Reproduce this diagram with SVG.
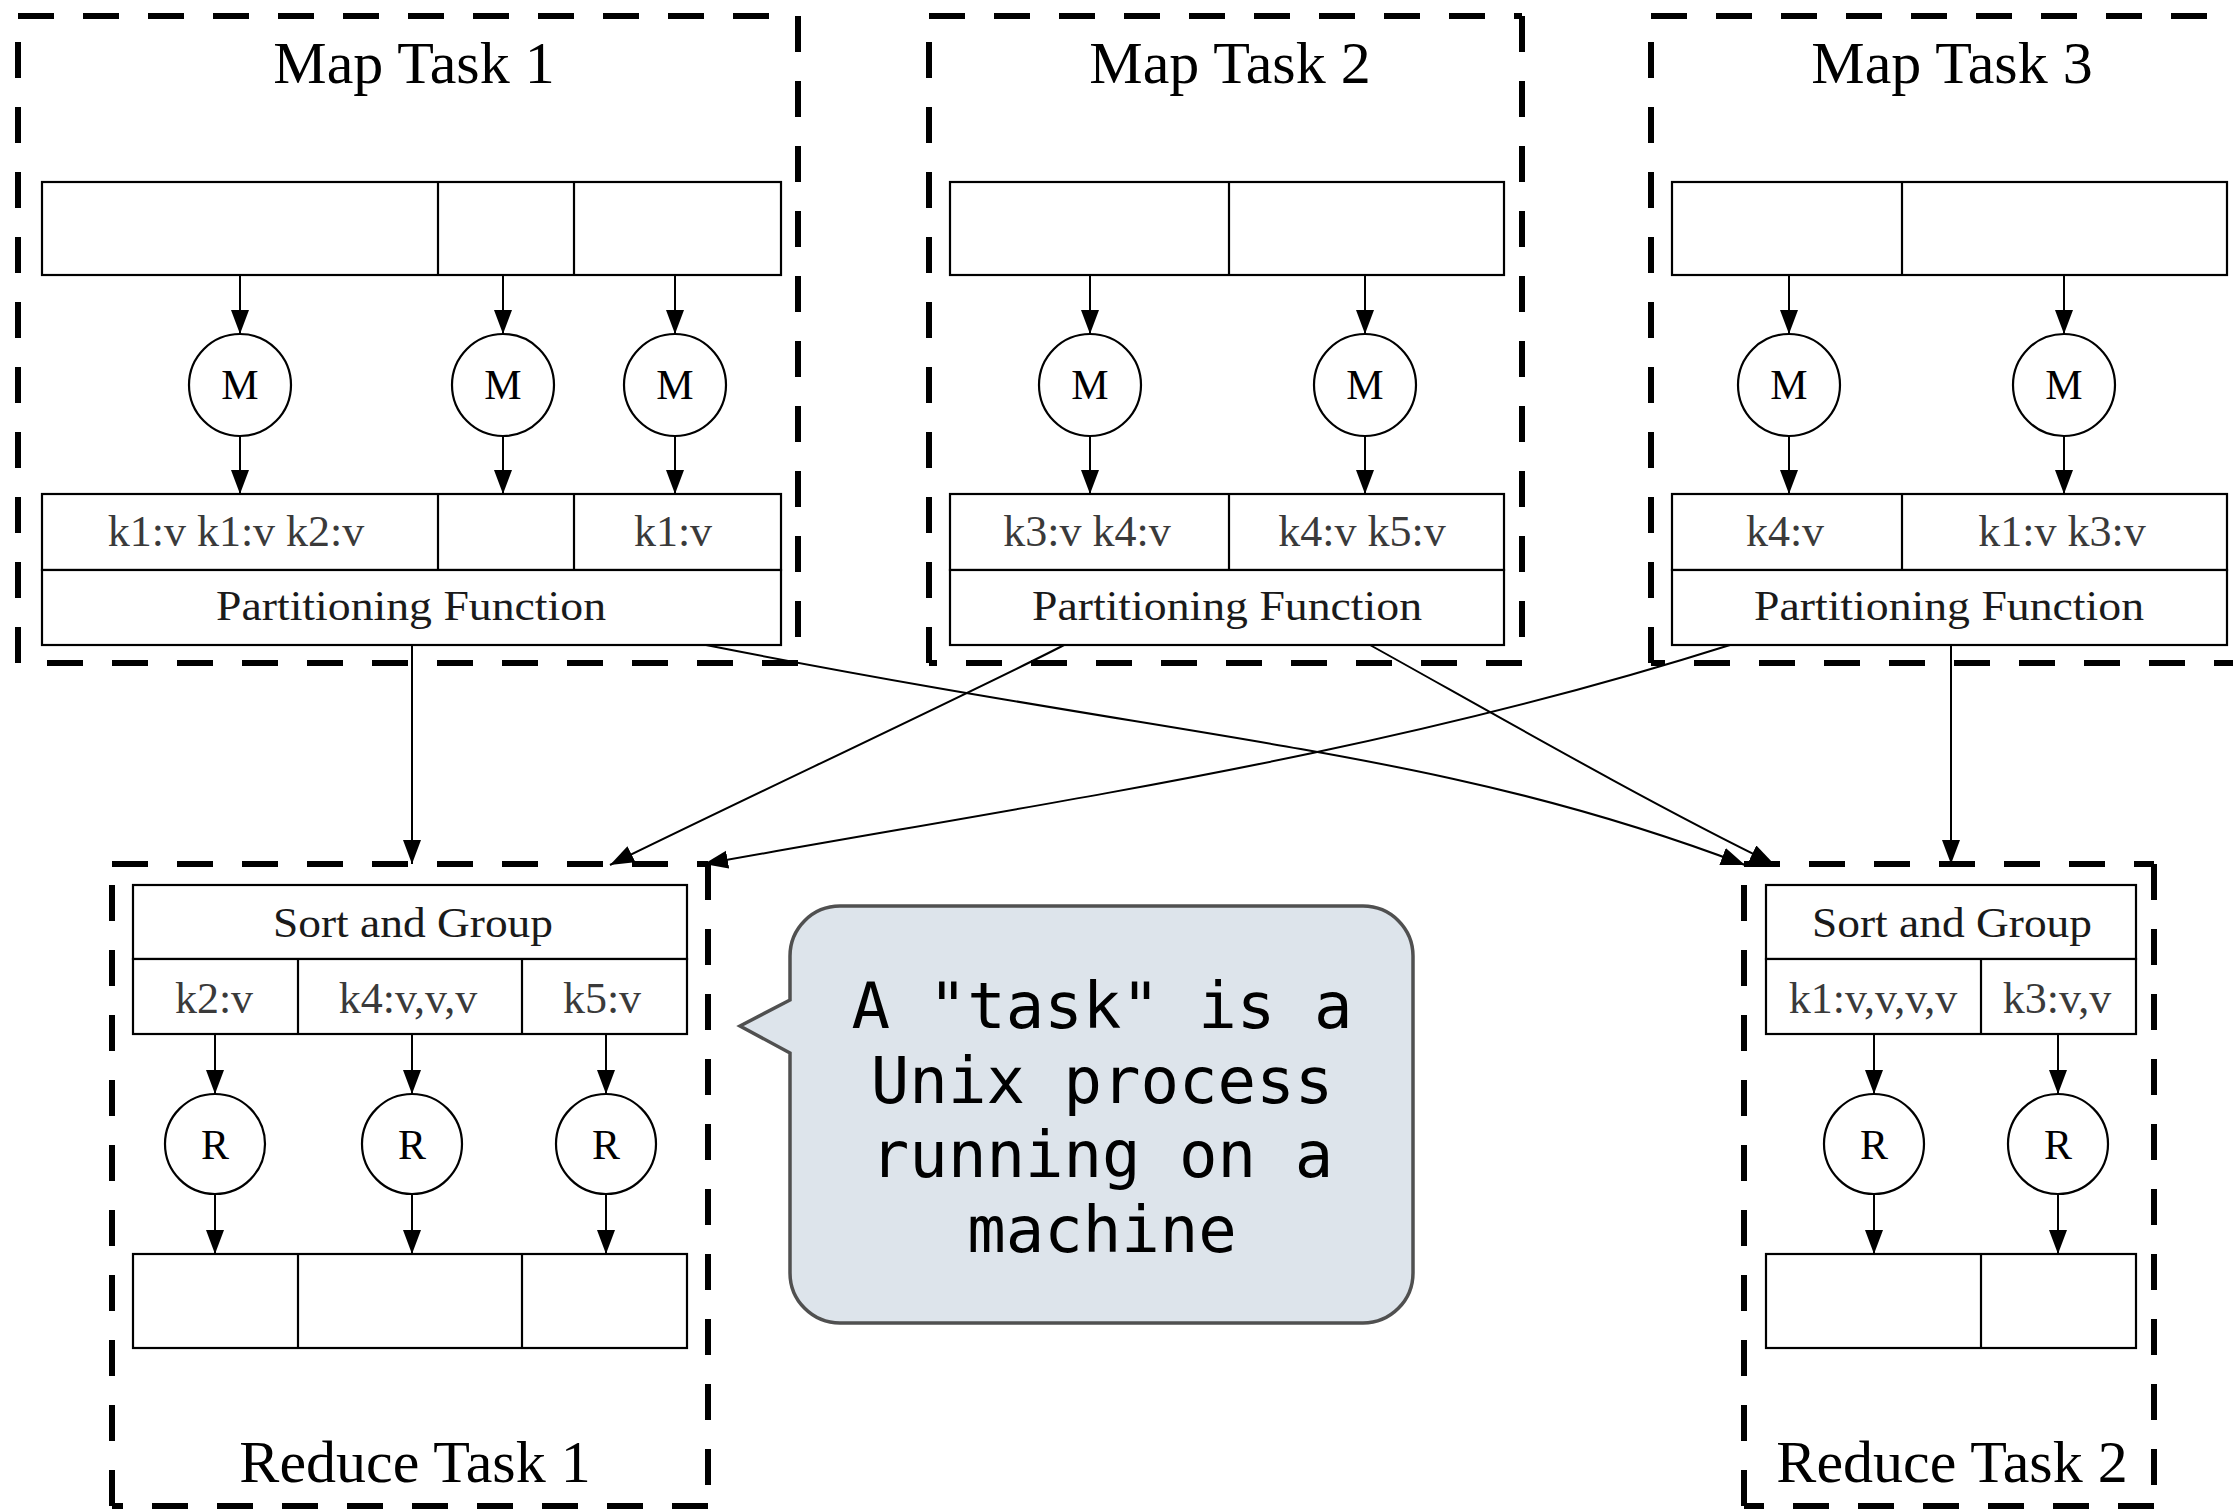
<svg xmlns="http://www.w3.org/2000/svg" width="2233" height="1509" viewBox="0 0 2233 1509">
  <style>
    .dash { fill: none; stroke: #000; stroke-width: 6; stroke-dasharray: 36 29; }
    .box { fill: #fff; stroke: #000; stroke-width: 2.2; }
    .div { stroke: #000; stroke-width: 2.2; }
    .node { fill: #fff; stroke: #000; stroke-width: 2.2; }
    .title { font-family: "Liberation Serif", "Times New Roman", serif; font-size: 60px; fill: #000; text-anchor: middle; }
    .kv { font-family: "Liberation Serif", "Times New Roman", serif; font-size: 44px; fill: #3a3a3a; text-anchor: middle; }
    .fn { font-family: "Liberation Serif", "Times New Roman", serif; font-size: 42px; fill: #1a1a1a; text-anchor: middle; }
    .lbl { font-family: "Liberation Serif", "Times New Roman", serif; font-size: 42px; fill: #000; text-anchor: middle; }
    .conn { fill: none; stroke: #000; stroke-width: 2; }
    .note { font-family: "DejaVu Sans Mono", "Liberation Mono", monospace; font-size: 64px; fill: #000; text-anchor: middle; }
  </style>
  <defs>
    <marker id="arrow" markerUnits="userSpaceOnUse" markerWidth="26" markerHeight="20" refX="24" refY="9" orient="auto">
      <path d="M0,0 L24,9 L0,18 Z" fill="#000"/>
    </marker>
  </defs>

  <rect width="2233" height="1509" fill="#fff"/>

  <!-- Map Task 1 -->
  <g id="map-task-1">
    <path class="dash" d="M18,16 H798 M798,16 V663 M798,663 H18 M18,663 V16"/>
    <text class="title" x="414" y="83">Map Task 1</text>
    <g id="m1-input">
      <rect class="box" x="42" y="182" width="739" height="93"/>
      <line class="div" x1="438" y1="182" x2="438" y2="275"/>
      <line class="div" x1="574" y1="182" x2="574" y2="275"/>
    </g>
    <g id="m1-map-a"><circle class="node" cx="240" cy="385" r="51"/><text class="lbl" x="240" y="399">M</text></g>
    <g id="m1-map-b"><circle class="node" cx="503" cy="385" r="51"/><text class="lbl" x="503" y="399">M</text></g>
    <g id="m1-map-c"><circle class="node" cx="675" cy="385" r="51"/><text class="lbl" x="675" y="399">M</text></g>
    <g id="m1-output">
      <rect class="box" x="42" y="494" width="739" height="76"/>
      <line class="div" x1="438" y1="494" x2="438" y2="570"/>
      <line class="div" x1="574" y1="494" x2="574" y2="570"/>
      <text class="kv" x="236" y="546">k1:v k1:v k2:v</text>
      <text class="kv" x="673" y="546">k1:v</text>
      <rect class="box" x="42" y="570" width="739" height="75"/>
      <text class="fn" x="411" y="620" textLength="390" lengthAdjust="spacingAndGlyphs">Partitioning Function</text>
    </g>
  </g>

  <!-- Map Task 2 -->
  <g id="map-task-2">
    <path class="dash" d="M929,16 H1522 M1522,16 V663 M1522,663 H929 M929,663 V16"/>
    <text class="title" x="1230" y="83">Map Task 2</text>
    <g id="m2-input">
      <rect class="box" x="950" y="182" width="554" height="93"/>
      <line class="div" x1="1229" y1="182" x2="1229" y2="275"/>
    </g>
    <g id="m2-map-a"><circle class="node" cx="1090" cy="385" r="51"/><text class="lbl" x="1090" y="399">M</text></g>
    <g id="m2-map-b"><circle class="node" cx="1365" cy="385" r="51"/><text class="lbl" x="1365" y="399">M</text></g>
    <g id="m2-output">
      <rect class="box" x="950" y="494" width="554" height="76"/>
      <line class="div" x1="1229" y1="494" x2="1229" y2="570"/>
      <text class="kv" x="1087" y="546">k3:v k4:v</text>
      <text class="kv" x="1362" y="546">k4:v k5:v</text>
      <rect class="box" x="950" y="570" width="554" height="75"/>
      <text class="fn" x="1227" y="620" textLength="390" lengthAdjust="spacingAndGlyphs">Partitioning Function</text>
    </g>
  </g>

  <!-- Map Task 3 -->
  <g id="map-task-3">
    <path class="dash" d="M1651,16 H2250 M2250,16 V663 M2250,663 H1651 M1651,663 V16"/>
    <text class="title" x="1952" y="83">Map Task 3</text>
    <g id="m3-input">
      <rect class="box" x="1672" y="182" width="555" height="93"/>
      <line class="div" x1="1902" y1="182" x2="1902" y2="275"/>
    </g>
    <g id="m3-map-a"><circle class="node" cx="1789" cy="385" r="51"/><text class="lbl" x="1789" y="399">M</text></g>
    <g id="m3-map-b"><circle class="node" cx="2064" cy="385" r="51"/><text class="lbl" x="2064" y="399">M</text></g>
    <g id="m3-output">
      <rect class="box" x="1672" y="494" width="555" height="76"/>
      <line class="div" x1="1902" y1="494" x2="1902" y2="570"/>
      <text class="kv" x="1785" y="546">k4:v</text>
      <text class="kv" x="2062" y="546">k1:v k3:v</text>
      <rect class="box" x="1672" y="570" width="555" height="75"/>
      <text class="fn" x="1949" y="620" textLength="390" lengthAdjust="spacingAndGlyphs">Partitioning Function</text>
    </g>
  </g>

  <!-- Reduce Task 1 -->
  <g id="reduce-task-1">
    <path class="dash" d="M112,864 H708 M708,864 V1506 M708,1506 H112 M112,1506 V864"/>
    <g id="r1-group">
      <rect class="box" x="133" y="885" width="554" height="74"/>
      <text class="fn" x="413" y="937" textLength="280" lengthAdjust="spacingAndGlyphs">Sort and Group</text>
      <rect class="box" x="133" y="959" width="554" height="75"/>
      <line class="div" x1="298" y1="959" x2="298" y2="1034"/>
      <line class="div" x1="522" y1="959" x2="522" y2="1034"/>
      <text class="kv" x="214" y="1013">k2:v</text>
      <text class="kv" x="408" y="1013">k4:v,v,v</text>
      <text class="kv" x="602" y="1013">k5:v</text>
    </g>
    <g id="r1-reduce-a"><circle class="node" cx="215" cy="1144" r="50"/><text class="lbl" x="215" y="1159">R</text></g>
    <g id="r1-reduce-b"><circle class="node" cx="412" cy="1144" r="50"/><text class="lbl" x="412" y="1159">R</text></g>
    <g id="r1-reduce-c"><circle class="node" cx="606" cy="1144" r="50"/><text class="lbl" x="606" y="1159">R</text></g>
    <g id="r1-output">
      <rect class="box" x="133" y="1254" width="554" height="94"/>
      <line class="div" x1="298" y1="1254" x2="298" y2="1348"/>
      <line class="div" x1="522" y1="1254" x2="522" y2="1348"/>
    </g>
    <text class="title" x="415" y="1482">Reduce Task 1</text>
  </g>

  <!-- Reduce Task 2 -->
  <g id="reduce-task-2">
    <path class="dash" d="M1744,864 H2154 M2154,864 V1506 M2154,1506 H1744 M1744,1506 V864"/>
    <g id="r2-group">
      <rect class="box" x="1766" y="885" width="370" height="74"/>
      <text class="fn" x="1952" y="937" textLength="280" lengthAdjust="spacingAndGlyphs">Sort and Group</text>
      <rect class="box" x="1766" y="959" width="370" height="75"/>
      <line class="div" x1="1981" y1="959" x2="1981" y2="1034"/>
      <text class="kv" x="1873" y="1013">k1:v,v,v,v</text>
      <text class="kv" x="2057" y="1013">k3:v,v</text>
    </g>
    <g id="r2-reduce-a"><circle class="node" cx="1874" cy="1144" r="50"/><text class="lbl" x="1874" y="1159">R</text></g>
    <g id="r2-reduce-b"><circle class="node" cx="2058" cy="1144" r="50"/><text class="lbl" x="2058" y="1159">R</text></g>
    <g id="r2-output">
      <rect class="box" x="1766" y="1254" width="370" height="94"/>
      <line class="div" x1="1981" y1="1254" x2="1981" y2="1348"/>
    </g>
    <text class="title" x="1952" y="1482">Reduce Task 2</text>
  </g>

  <!-- Callout -->
  <g id="callout">
    <path d="M840,906 H1363 A50,50 0 0 1 1413,956 V1273 A50,50 0 0 1 1363,1323 H840 A50,50 0 0 1 790,1273 V1053 L740,1026 L790,1000 V956 A50,50 0 0 1 840,906 Z" fill="#dde4eb" stroke="#505050" stroke-width="3.5"/>
    <text class="note" x="1102" y="1028">A "task" is a</text>
    <text class="note" x="1102" y="1103">Unix process</text>
    <text class="note" x="1102" y="1177">running on a</text>
    <text class="note" x="1102" y="1252">machine</text>
  </g>

  <!-- Connectors -->
  <g id="connectors">
    <!-- inside map tasks -->
    <line class="conn" x1="240" y1="275" x2="240" y2="334" marker-end="url(#arrow)"/>
    <line class="conn" x1="503" y1="275" x2="503" y2="334" marker-end="url(#arrow)"/>
    <line class="conn" x1="675" y1="275" x2="675" y2="334" marker-end="url(#arrow)"/>
    <line class="conn" x1="240" y1="436" x2="240" y2="494" marker-end="url(#arrow)"/>
    <line class="conn" x1="503" y1="436" x2="503" y2="494" marker-end="url(#arrow)"/>
    <line class="conn" x1="675" y1="436" x2="675" y2="494" marker-end="url(#arrow)"/>
    <line class="conn" x1="1090" y1="275" x2="1090" y2="334" marker-end="url(#arrow)"/>
    <line class="conn" x1="1365" y1="275" x2="1365" y2="334" marker-end="url(#arrow)"/>
    <line class="conn" x1="1090" y1="436" x2="1090" y2="494" marker-end="url(#arrow)"/>
    <line class="conn" x1="1365" y1="436" x2="1365" y2="494" marker-end="url(#arrow)"/>
    <line class="conn" x1="1789" y1="275" x2="1789" y2="334" marker-end="url(#arrow)"/>
    <line class="conn" x1="2064" y1="275" x2="2064" y2="334" marker-end="url(#arrow)"/>
    <line class="conn" x1="1789" y1="436" x2="1789" y2="494" marker-end="url(#arrow)"/>
    <line class="conn" x1="2064" y1="436" x2="2064" y2="494" marker-end="url(#arrow)"/>
    <!-- inside reduce tasks -->
    <line class="conn" x1="215" y1="1034" x2="215" y2="1094" marker-end="url(#arrow)"/>
    <line class="conn" x1="412" y1="1034" x2="412" y2="1094" marker-end="url(#arrow)"/>
    <line class="conn" x1="606" y1="1034" x2="606" y2="1094" marker-end="url(#arrow)"/>
    <line class="conn" x1="215" y1="1194" x2="215" y2="1254" marker-end="url(#arrow)"/>
    <line class="conn" x1="412" y1="1194" x2="412" y2="1254" marker-end="url(#arrow)"/>
    <line class="conn" x1="606" y1="1194" x2="606" y2="1254" marker-end="url(#arrow)"/>
    <line class="conn" x1="1874" y1="1034" x2="1874" y2="1094" marker-end="url(#arrow)"/>
    <line class="conn" x1="2058" y1="1034" x2="2058" y2="1094" marker-end="url(#arrow)"/>
    <line class="conn" x1="1874" y1="1194" x2="1874" y2="1254" marker-end="url(#arrow)"/>
    <line class="conn" x1="2058" y1="1194" x2="2058" y2="1254" marker-end="url(#arrow)"/>
    <!-- shuffle: partitions to reduce tasks -->
    <line class="conn" x1="412" y1="645" x2="412" y2="864" marker-end="url(#arrow)"/>
    <path class="conn" d="M706,645 C1206,744 1440,749 1745,865" marker-end="url(#arrow)"/>
    <path class="conn" d="M1064,645 C1010,674 700,820 610,865" marker-end="url(#arrow)"/>
    <path class="conn" d="M1370,645 C1480,706 1650,804 1774,864" marker-end="url(#arrow)"/>
    <path class="conn" d="M1730,645 C1380,756 1052,801 704,864" marker-end="url(#arrow)"/>
    <line class="conn" x1="1951" y1="645" x2="1951" y2="864" marker-end="url(#arrow)"/>
  </g>
</svg>
